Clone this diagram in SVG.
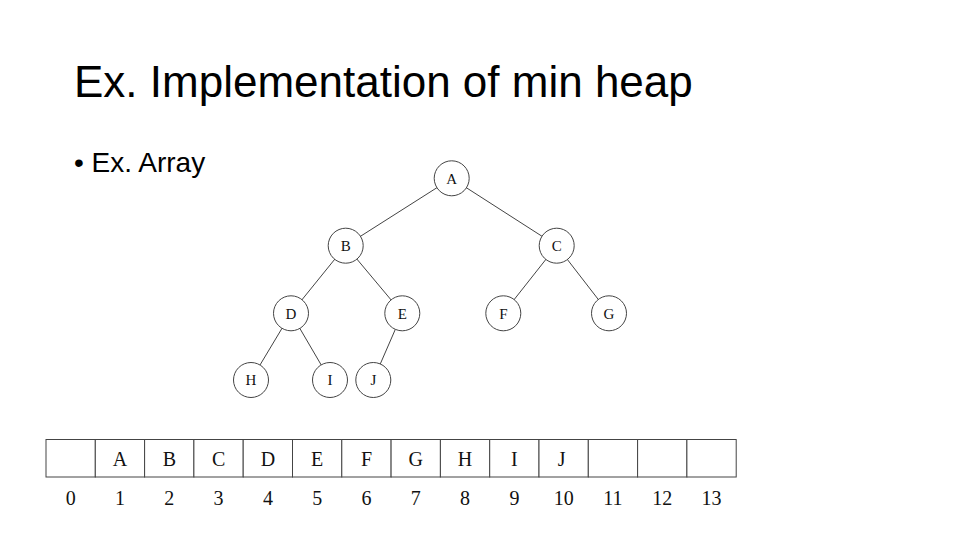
<svg xmlns="http://www.w3.org/2000/svg" width="960" height="540" viewBox="0 0 960 540">
<style>
.title{font-family:"Liberation Sans",Arial,sans-serif;font-size:44px;fill:#000}
.bullet{font-family:"Liberation Sans",Arial,sans-serif;font-size:28px;fill:#000}
.node circle{fill:#fff;stroke:#444;stroke-width:1}
.node text{font-family:"Liberation Serif","Times New Roman",serif;font-size:15px;fill:#111;text-anchor:middle}
.edges line{stroke:#444;stroke-width:1}
.cell{fill:#fff;stroke:#444;stroke-width:1}
.cl{font-family:"Liberation Serif","Times New Roman",serif;font-size:20px;fill:#111;text-anchor:middle}
.idx{font-family:"Liberation Serif","Times New Roman",serif;font-size:20px;fill:#111;text-anchor:middle}
</style>
<rect width="960" height="540" fill="#fff"/>
<text class="title" x="74" y="97">Ex. Implementation of min heap</text>
<text class="bullet" x="74" y="172">• Ex. Array</text>
<g class="edges">
<line x1="451.7" y1="178.3" x2="345.7" y2="245.7"/>
<line x1="451.7" y1="178.3" x2="556.7" y2="245.7"/>
<line x1="345.7" y1="245.7" x2="291" y2="313.3"/>
<line x1="345.7" y1="245.7" x2="402.3" y2="313.3"/>
<line x1="556.7" y1="245.7" x2="503.3" y2="313.3"/>
<line x1="556.7" y1="245.7" x2="609" y2="313.3"/>
<line x1="291" y1="313.3" x2="251" y2="380"/>
<line x1="291" y1="313.3" x2="330" y2="380"/>
<line x1="402.3" y1="313.3" x2="373.3" y2="380"/>
</g>
<g id="nA" class="node"><circle cx="451.7" cy="178.3" r="17.5"/><text x="451.7" y="183.5">A</text></g>
<g id="nB" class="node"><circle cx="345.7" cy="245.7" r="17.5"/><text x="345.7" y="250.9">B</text></g>
<g id="nC" class="node"><circle cx="556.7" cy="245.7" r="17.5"/><text x="556.7" y="250.9">C</text></g>
<g id="nD" class="node"><circle cx="291" cy="313.3" r="17.5"/><text x="291" y="318.5">D</text></g>
<g id="nE" class="node"><circle cx="402.3" cy="313.3" r="17.5"/><text x="402.3" y="318.5">E</text></g>
<g id="nF" class="node"><circle cx="503.3" cy="313.3" r="17.5"/><text x="503.3" y="318.5">F</text></g>
<g id="nG" class="node"><circle cx="609" cy="313.3" r="17.5"/><text x="609" y="318.5">G</text></g>
<g id="nH" class="node"><circle cx="251" cy="380" r="17.5"/><text x="251" y="385.2">H</text></g>
<g id="nI" class="node"><circle cx="330" cy="380" r="17.5"/><text x="330" y="385.2">I</text></g>
<g id="nJ" class="node"><circle cx="373.3" cy="380" r="17.5"/><text x="373.3" y="385.2">J</text></g>
<g id="array">
<rect class="cell" x="46" y="439.5" width="49.3" height="37.5"/>
<rect class="cell" x="95.3" y="439.5" width="49.3" height="37.5"/>
<rect class="cell" x="144.6" y="439.5" width="49.3" height="37.5"/>
<rect class="cell" x="193.9" y="439.5" width="49.3" height="37.5"/>
<rect class="cell" x="243.2" y="439.5" width="49.3" height="37.5"/>
<rect class="cell" x="292.5" y="439.5" width="49.3" height="37.5"/>
<rect class="cell" x="341.8" y="439.5" width="49.3" height="37.5"/>
<rect class="cell" x="391.1" y="439.5" width="49.3" height="37.5"/>
<rect class="cell" x="440.4" y="439.5" width="49.3" height="37.5"/>
<rect class="cell" x="489.7" y="439.5" width="49.3" height="37.5"/>
<rect class="cell" x="539" y="439.5" width="49.3" height="37.5"/>
<rect class="cell" x="588.3" y="439.5" width="49.3" height="37.5"/>
<rect class="cell" x="637.6" y="439.5" width="49.3" height="37.5"/>
<rect class="cell" x="686.9" y="439.5" width="49.3" height="37.5"/>
<text class="cl" x="120" y="466">A</text>
<text class="cl" x="169.3" y="466">B</text>
<text class="cl" x="218.6" y="466">C</text>
<text class="cl" x="267.9" y="466">D</text>
<text class="cl" x="317.2" y="466">E</text>
<text class="cl" x="366.5" y="466">F</text>
<text class="cl" x="415.8" y="466">G</text>
<text class="cl" x="465.1" y="466">H</text>
<text class="cl" x="514.4" y="466">I</text>
<text class="cl" x="561.7" y="466">J</text>
</g>
<g id="indices">
<text class="idx" x="70.7" y="505">0</text>
<text class="idx" x="120" y="505">1</text>
<text class="idx" x="169.3" y="505">2</text>
<text class="idx" x="218.6" y="505">3</text>
<text class="idx" x="267.9" y="505">4</text>
<text class="idx" x="317.2" y="505">5</text>
<text class="idx" x="366.5" y="505">6</text>
<text class="idx" x="415.8" y="505">7</text>
<text class="idx" x="465.1" y="505">8</text>
<text class="idx" x="514.4" y="505">9</text>
<text class="idx" x="563.7" y="505">10</text>
<text class="idx" x="613" y="505">11</text>
<text class="idx" x="662.3" y="505">12</text>
<text class="idx" x="711.6" y="505">13</text>
</g>
</svg>
